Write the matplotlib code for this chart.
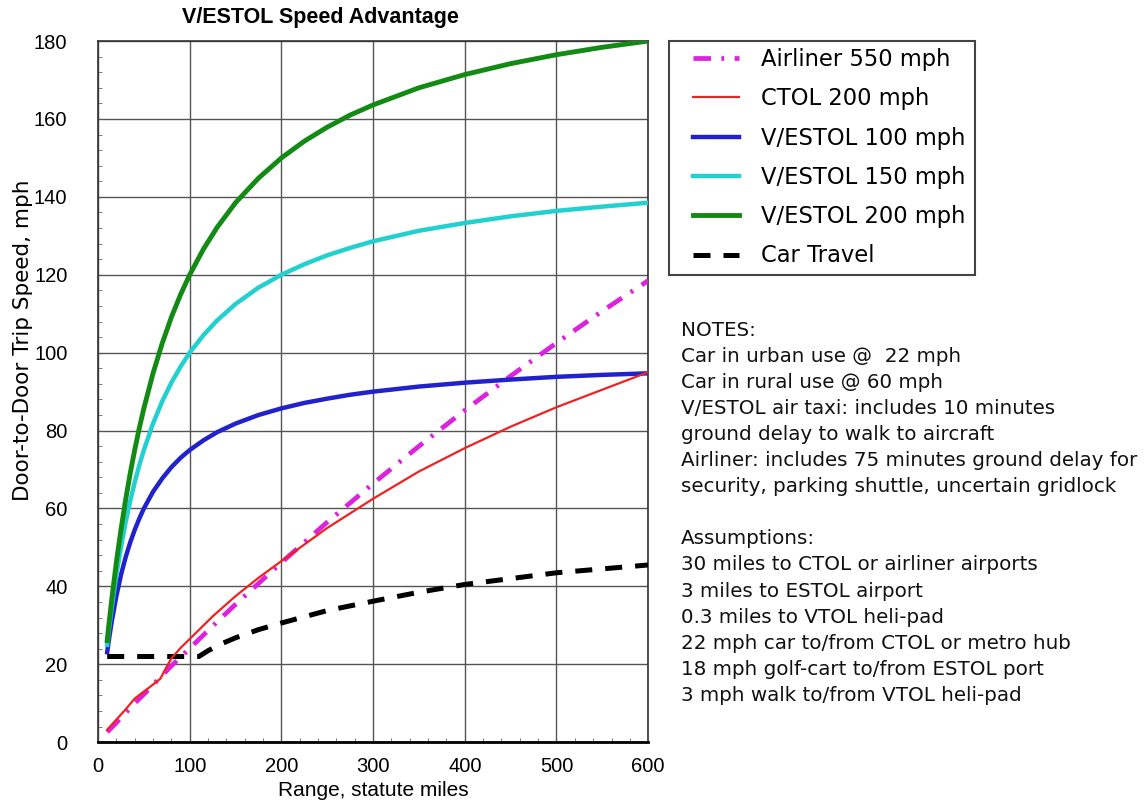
import matplotlib
matplotlib.use("Agg")
import matplotlib.pyplot as plt
from matplotlib.ticker import MultipleLocator
from matplotlib.patches import Rectangle

plt.rcParams['font.family'] = ['Liberation Sans', 'DejaVu Sans']

# range, statute miles for the V/ESTOL curves (dense near the steep start)
vestol_rng = [10, 12, 15, 20, 25, 30, 35, 40, 45, 50, 60, 70, 80, 90, 100, 115, 130, 150,
              175, 200, 225, 250, 275, 300, 350, 400, 450, 500, 550, 600]

# door-to-door trip speed, mph
vestol_200 = [26.1, 30.5, 36.7, 46.2, 54.5, 62.1, 68.9, 75.0, 80.6, 85.7, 94.7, 102.4, 109.1,
              114.9, 120.0, 126.6, 132.2, 138.5, 144.8, 150.0, 154.3, 157.9, 161.0, 163.6,
              168.0, 171.4, 174.2, 176.5, 178.4, 180.0]
vestol_150 = [25.0, 29.0, 34.6, 42.9, 50.0, 56.3, 61.8, 66.7, 71.1, 75.0, 81.8, 87.5, 92.3,
              96.4, 100.0, 104.5, 108.3, 112.5, 116.7, 120.0, 122.7, 125.0, 126.9, 128.6,
              131.3, 133.3, 135.0, 136.4, 137.5, 138.5]
vestol_100 = [23.1, 26.5, 31.0, 37.5, 42.9, 47.4, 51.2, 54.5, 57.4, 60.0, 64.3, 67.7, 70.6,
              73.0, 75.0, 77.5, 79.6, 81.8, 84.0, 85.7, 87.1, 88.2, 89.2, 90.0,
              91.3, 92.3, 93.1, 93.8, 94.3, 94.7]

air_rng = [10, 20, 30, 40, 50, 60, 80, 100, 125, 150, 200, 250, 300, 350, 400, 450, 500, 550, 600]
airliner = [2.6, 5.0, 7.5, 10.0, 12.3, 14.7, 19.6, 24.1, 29.8, 35.4, 46.1, 56.5,
            66.4, 76.0, 85.2, 94.0, 102.5, 110.7, 118.5]

ctol_rng = [10, 20, 30, 40, 50, 60, 68, 74, 80, 90, 100, 125, 150, 175, 200, 250, 300, 350,
            400, 450, 500, 550, 600]
ctol_200 = [3.2, 5.8, 8.4, 11.2, 13.0, 14.8, 16.3, 19.0, 21.5, 24.2, 26.5, 32.3, 37.5, 42.2,
            46.5, 55.0, 62.5, 69.5, 75.5, 81.0, 86.0, 90.5, 95.0]

car_rng = [10, 110, 120, 135, 150, 175, 200, 250, 300, 350, 400, 450, 500, 550, 600]
car = [22.0, 22.0, 23.5, 25.3, 26.8, 28.9, 30.6, 33.8, 36.2, 38.5, 40.5, 42.0, 43.5, 44.5, 45.5]

notes = [
    "NOTES:",
    "Car in urban use @  22 mph",
    "Car in rural use @ 60 mph",
    "V/ESTOL air taxi: includes 10 minutes",
    "ground delay to walk to aircraft",
    "Airliner: includes 75 minutes ground delay for",
    "security, parking shuttle, uncertain gridlock",
    "",
    "Assumptions:",
    "30 miles to CTOL or airliner airports",
    "3 miles to ESTOL airport",
    "0.3 miles to VTOL heli-pad",
    "22 mph car to/from CTOL or metro hub",
    "18 mph golf-cart to/from ESTOL port",
    "3 mph walk to/from VTOL heli-pad",
]

W, H = 1145, 805
fig = plt.figure(figsize=(W / 100, H / 100), dpi=100)
ax = fig.add_axes([0.0856, 0.078, 0.4805, 0.871])

ax.plot(air_rng, airliner, color='#dd22dd', lw=3.4, ls=(0, (3.7, 2.2, 0.6, 2.2)),
        label='Airliner 550 mph', zorder=3)
ax.plot(ctol_rng, ctol_200, color='#ee2222', lw=1.6, label='CTOL 200 mph', zorder=4)
ax.plot(vestol_rng, vestol_100, color='#2222cc', lw=3.2, label='V/ESTOL 100 mph', zorder=3)
ax.plot(vestol_rng, vestol_150, color='#22d0d0', lw=3.2, label='V/ESTOL 150 mph', zorder=3)
ax.plot(vestol_rng, vestol_200, color='#138a13', lw=3.5, label='V/ESTOL 200 mph', zorder=3)
ax.plot(car_rng, car, color='black', lw=3.6, ls=(0, (3.4, 2.6)), label='Car Travel', zorder=3)

ax.set_xlim(0, 600)
ax.set_ylim(0, 180)
ax.xaxis.set_major_locator(MultipleLocator(100))
ax.yaxis.set_major_locator(MultipleLocator(20))
ax.xaxis.set_minor_locator(MultipleLocator(20))
ax.yaxis.set_minor_locator(MultipleLocator(4))
ax.grid(True, which='major', color='#555555', lw=1.0)
ax.tick_params(which='both', direction='in', labelsize=14.5, color='#666666')
ax.tick_params(which='major', length=0)
ax.tick_params(axis='x', which='major', pad=11)
ax.tick_params(axis='y', which='major', pad=22)
ax.tick_params(which='minor', length=3)
for s in ax.spines.values():
    s.set_color('#333333')
    s.set_linewidth(1.2)
ax.spines['bottom'].set_color('black')
ax.spines['bottom'].set_linewidth(2)

ax.set_xlabel('Range, statute miles', fontsize=15, labelpad=3)
ax.set_ylabel('Door-to-Door Trip Speed, mph', fontsize=15.5, family='DejaVu Sans')
ax.yaxis.set_label_coords(-0.118, 0.573)

fig.text(0.2795, 0.978, 'V/ESTOL Speed Advantage', fontsize=15.5, fontweight='bold',
         ha='center', va='center')

# legend: frame drawn separately so the padding matches the original box
fig.add_artist(Rectangle((669 / W, 1 - 275 / H), (975 - 669) / W, (275 - 41) / H,
                         transform=fig.transFigure, fill=False, edgecolor='#444444', lw=1.5))
leg = ax.legend(loc='upper left', bbox_to_anchor=(693 / W, 1 - 48 / H), bbox_transform=fig.transFigure,
                prop={'family': 'DejaVu Sans', 'size': 16.3}, frameon=False,
                handlelength=2.05, handletextpad=0.95, labelspacing=0.72, borderpad=0,
                borderaxespad=0)

y0 = 1 - 330 / H
for i, line in enumerate(notes):
    fig.text(681 / W, y0 - i * 26.1 / H, line, fontsize=14.3, family='DejaVu Sans',
             ha='left', va='center', color='#111111')

fig.savefig('out.png', dpi=100, facecolor='white')
